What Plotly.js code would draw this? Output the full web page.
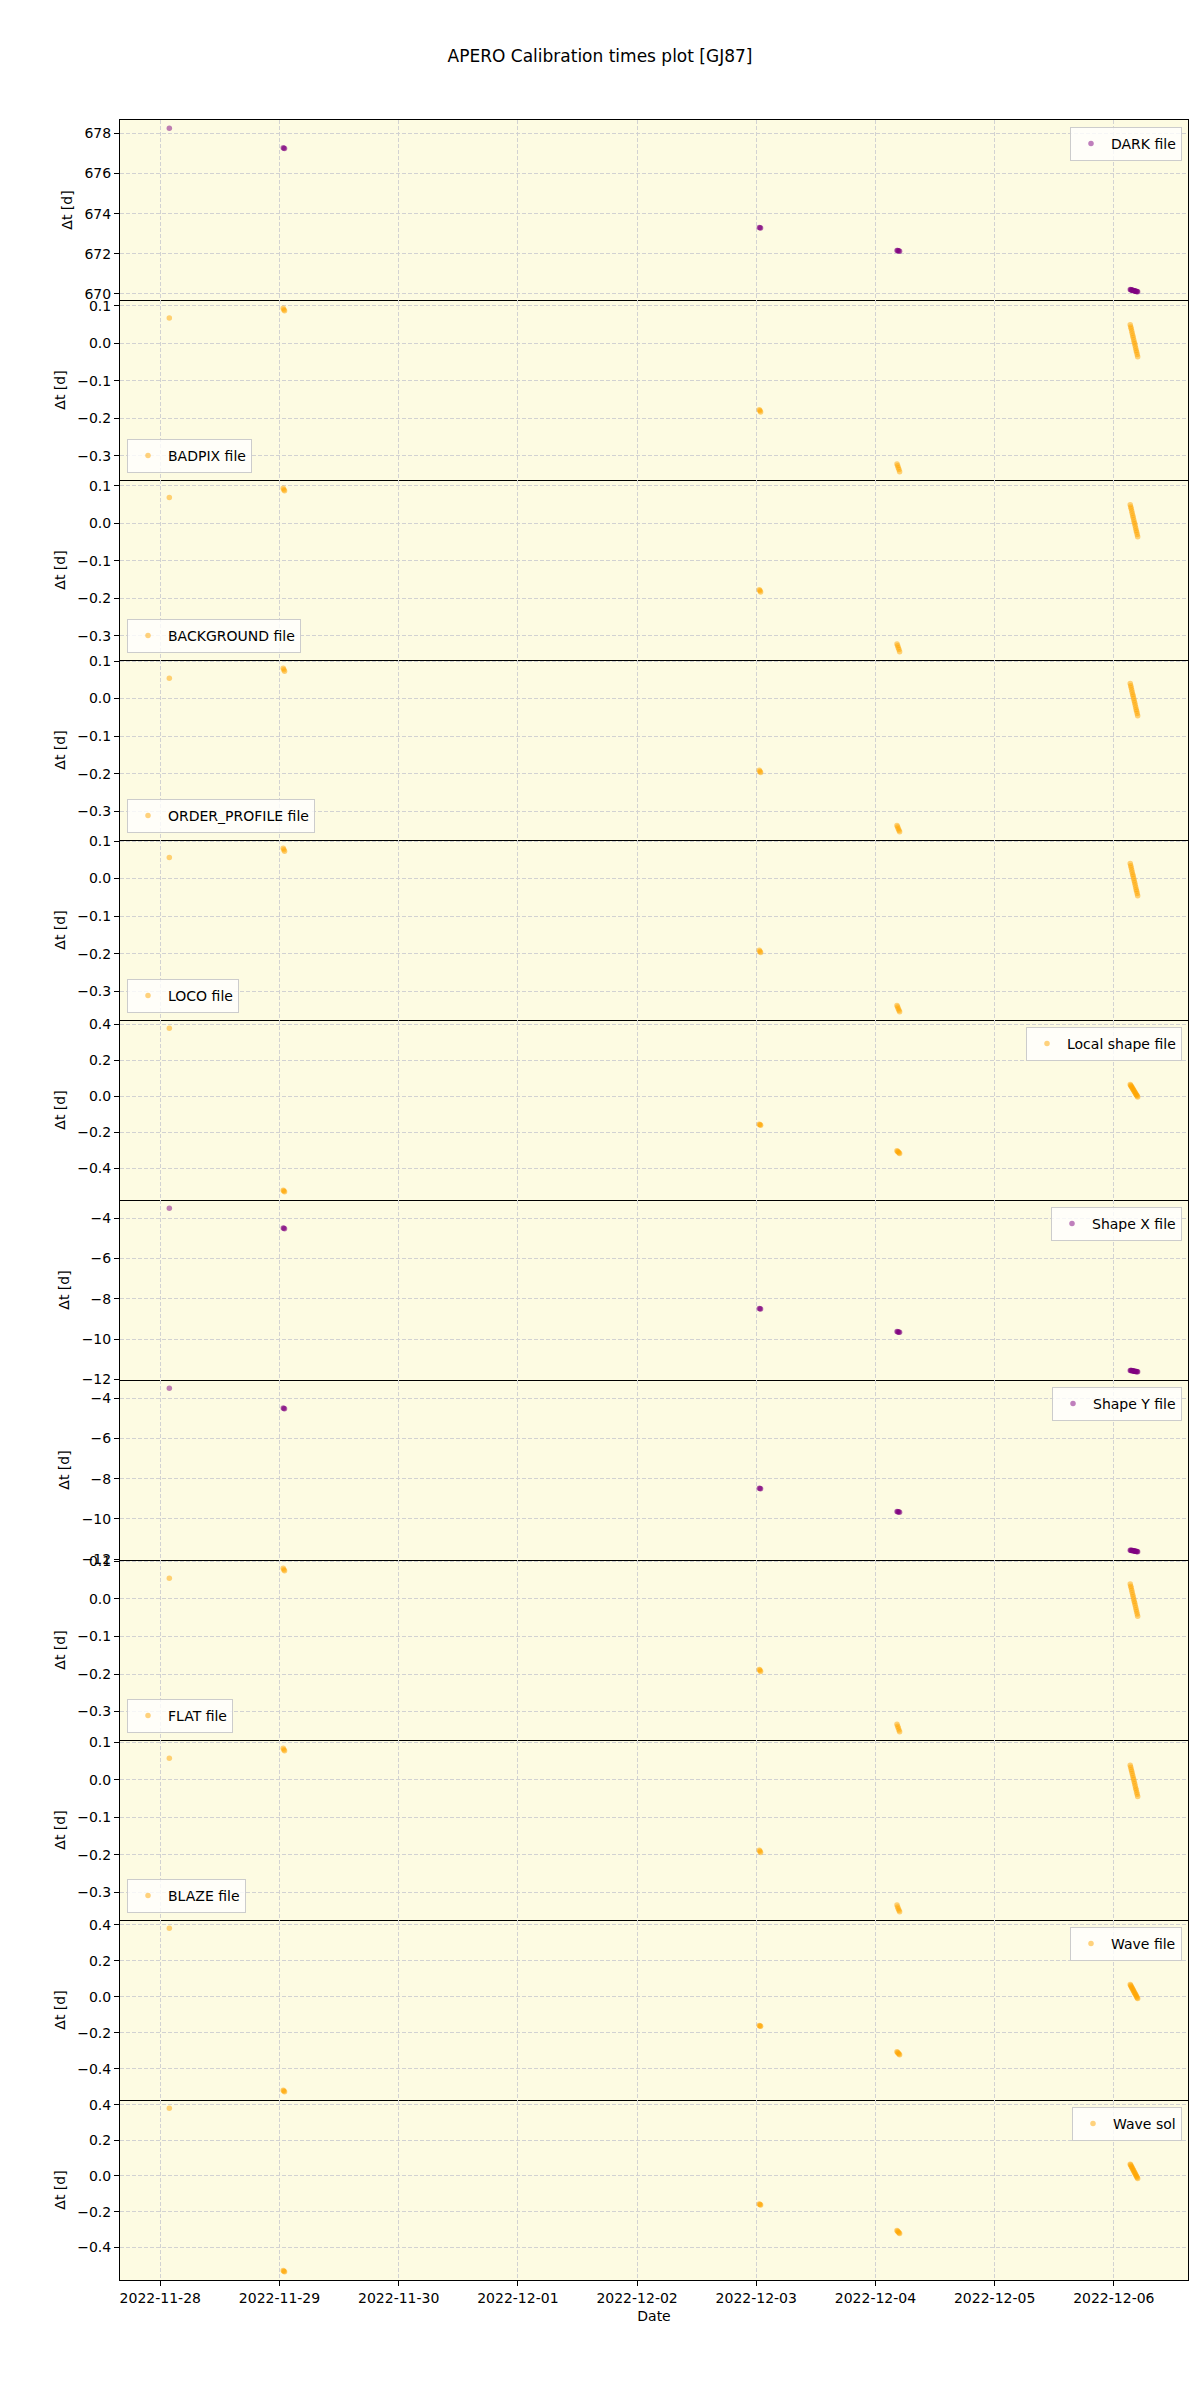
<!DOCTYPE html>
<html>
<head>
<meta charset="utf-8">
<script src="https://cdn.plot.ly/plotly-3.0.1.min.js"></script>
<style>body{margin:0;background:#fff;}</style>
</head>
<body>
<div id="chart" style="width:1200px;height:2400px;"></div>
<script>
// Observation times (shared by every panel)
const obsTimes = [
  "2022-11-28 01:49",
  "2022-11-29 00:45", "2022-11-29 00:53", "2022-11-29 01:01",
  "2022-12-03 00:37", "2022-12-03 00:45", "2022-12-03 00:53",
  "2022-12-04 04:20", "2022-12-04 04:28", "2022-12-04 04:36", "2022-12-04 04:44", "2022-12-04 04:52",
  "2022-12-06 03:18", "2022-12-06 03:24", "2022-12-06 03:30", "2022-12-06 03:36",
  "2022-12-06 03:42", "2022-12-06 03:48", "2022-12-06 03:54", "2022-12-06 04:00",
  "2022-12-06 04:06", "2022-12-06 04:12", "2022-12-06 04:18", "2022-12-06 04:24",
  "2022-12-06 04:30", "2022-12-06 04:36", "2022-12-06 04:42", "2022-12-06 04:48"
];

const panelNames = ["DARK file", "BADPIX file", "BACKGROUND file", "ORDER_PROFILE file", "LOCO file",
  "Local shape file", "Shape X file", "Shape Y file", "FLAT file", "BLAZE file", "Wave file", "Wave sol"];

const dtDark = [678.27, 677.29, 677.27, 677.25, 673.30, 673.29, 673.28,
  672.16, 672.15, 672.14, 672.13, 672.12,
  670.20, 670.19, 670.19, 670.18, 670.17, 670.16, 670.16, 670.15,
  670.14, 670.13, 670.13, 670.12, 670.11, 670.10, 670.10, 670.09];
const dtBadpix = [0.068, 0.094, 0.090, 0.087, -0.177, -0.180, -0.183,
  -0.322, -0.327, -0.332, -0.337, -0.343,
  0.050, 0.044, 0.039, 0.033, 0.027, 0.021, 0.016, 0.010,
  0.004, -0.001, -0.007, -0.013, -0.019, -0.024, -0.030, -0.036];
const dtBackground = [0.069, 0.094, 0.090, 0.087, -0.177, -0.180, -0.183,
  -0.322, -0.327, -0.332, -0.337, -0.343,
  0.050, 0.044, 0.039, 0.033, 0.027, 0.021, 0.016, 0.010,
  0.004, -0.001, -0.007, -0.013, -0.019, -0.024, -0.030, -0.036];
const dtOrderProfile = [0.054, 0.081, 0.077, 0.073, -0.191, -0.194, -0.197,
  -0.338, -0.342, -0.347, -0.351, -0.355,
  0.040, 0.034, 0.029, 0.023, 0.017, 0.011, 0.006, 0.000,
  -0.006, -0.011, -0.017, -0.023, -0.029, -0.034, -0.040, -0.046];
const dtLoco = [0.056, 0.081, 0.077, 0.073, -0.191, -0.194, -0.197,
  -0.338, -0.342, -0.347, -0.351, -0.355,
  0.040, 0.034, 0.029, 0.023, 0.017, 0.011, 0.006, 0.000,
  -0.006, -0.011, -0.017, -0.023, -0.029, -0.034, -0.040, -0.046];
const dtLocalShape = [0.380, -0.522, -0.527, -0.531, -0.155, -0.158, -0.161,
  -0.302, -0.306, -0.310, -0.314, -0.318,
  0.066, 0.061, 0.057, 0.052, 0.048, 0.043, 0.038, 0.034,
  0.029, 0.025, 0.020, 0.015, 0.011, 0.006, 0.002, -0.003];
const dtShapeX = [-3.50, -4.48, -4.50, -4.52, -8.49, -8.50, -8.51,
  -9.63, -9.64, -9.65, -9.66, -9.67,
  -11.56, -11.56, -11.57, -11.57, -11.58, -11.58, -11.59, -11.59,
  -11.60, -11.60, -11.61, -11.61, -11.62, -11.62, -11.63, -11.63];
const dtShapeY = [-3.49, -4.48, -4.50, -4.52, -8.48, -8.49, -8.50,
  -9.63, -9.64, -9.65, -9.66, -9.67,
  -11.56, -11.56, -11.57, -11.57, -11.58, -11.58, -11.59, -11.59,
  -11.60, -11.60, -11.61, -11.61, -11.62, -11.62, -11.63, -11.64];
const dtFlat = [0.055, 0.082, 0.078, 0.075, -0.188, -0.190, -0.193,
  -0.334, -0.339, -0.344, -0.349, -0.354,
  0.040, 0.034, 0.029, 0.023, 0.017, 0.011, 0.006, 0.000,
  -0.006, -0.011, -0.017, -0.023, -0.029, -0.034, -0.040, -0.046];
const dtBlaze = [0.058, 0.085, 0.081, 0.078, -0.188, -0.191, -0.194,
  -0.335, -0.340, -0.345, -0.349, -0.353,
  0.039, 0.034, 0.028, 0.023, 0.017, 0.012, 0.006, 0.001,
  -0.005, -0.010, -0.016, -0.022, -0.027, -0.033, -0.038, -0.044];
const dtWaveFile = [0.382, -0.520, -0.525, -0.529, -0.160, -0.162, -0.164,
  -0.306, -0.310, -0.314, -0.318, -0.322,
  0.068, 0.063, 0.058, 0.052, 0.047, 0.042, 0.037, 0.032,
  0.026, 0.021, 0.016, 0.011, 0.006, 0.000, -0.005, -0.010];
const dtWaveSol = [0.380, -0.530, -0.534, -0.537, -0.157, -0.160, -0.162,
  -0.306, -0.310, -0.314, -0.318, -0.322,
  0.066, 0.061, 0.055, 0.050, 0.045, 0.039, 0.034, 0.029,
  0.023, 0.018, 0.013, 0.007, 0.002, -0.003, -0.009, -0.014];

const panelData = [dtDark, dtBadpix, dtBackground, dtOrderProfile, dtLoco, dtLocalShape,
  dtShapeX, dtShapeY, dtFlat, dtBlaze, dtWaveFile, dtWaveSol];

// style config
const PURPLE = "purple", ORANGE = "orange";
const panelColor = [PURPLE, ORANGE, ORANGE, ORANGE, ORANGE, ORANGE, PURPLE, PURPLE, ORANGE, ORANGE, ORANGE, ORANGE];
const legendPos = ["ur", "ll", "ll", "ll", "ll", "ur", "ur", "ur", "ll", "ll", "ur", "ur"];
const panelDtick = [2, 0.1, 0.1, 0.1, 0.1, 0.2, 2, 2, 0.1, 0.1, 0.2, 0.2];
const panelFmt = ["d", ".1f", ".1f", ".1f", ".1f", ".1f", "d", "d", ".1f", ".1f", ".1f", ".1f"];

const W = 1200, H = 2400;
const M = {l: 120, r: 12, t: 120, b: 120};
const plotW = W - M.l - M.r, plotH = H - M.t - M.b;
const N = panelNames.length;
const panelH = plotH / N;
const FONT = "DejaVu Sans, sans-serif";
const GRID = "#d2d2d2";

const traces = [];
const layout = {
  width: W, height: H,
  margin: M,
  paper_bgcolor: "#ffffff",
  plot_bgcolor: "#fdfbe2",
  font: {family: FONT, size: 14, color: "#000"},
  showlegend: true,
  title: {
    text: "APERO Calibration times plot [GJ87]",
    font: {family: FONT, size: 17, color: "#000"},
    x: 0.5, xref: "container", xanchor: "center",
    y: 1 - 56 / H, yref: "container", yanchor: "middle"
  }
};

for (let i = 0; i < N; i++) {
  const k = i + 1;
  const sfx = k === 1 ? "" : String(k);
  const xa = "x" + sfx, ya = "y" + sfx;
  const legName = "legend" + sfx;
  const vals = panelData[i];
  traces.push({
    type: "scatter", mode: "markers",
    x: obsTimes, y: vals,
    xaxis: xa, yaxis: ya,
    name: panelNames[i],
    legend: legName,
    marker: {color: panelColor[i], size: 5.5, opacity: 0.5, line: {width: 0}},
    hoverinfo: "x+y"
  });

  const lo = Math.min(...vals), hi = Math.max(...vals);
  const pad = (hi - lo) * 0.05;
  const top = 1 - i / N, bot = 1 - (i + 1) / N;
  const isBottom = i === N - 1;

  const xaxis = {
    domain: [0, 1],
    anchor: ya,
    type: "date",
    range: ["2022-11-27 15:53", "2022-12-06 14:56"],
    tick0: "2022-11-28", dtick: 86400000,
    tickformat: "%Y-%m-%d",
    showticklabels: isBottom,
    ticks: isBottom ? "outside" : "",
    ticklen: 5, tickwidth: 1, tickcolor: "#000",
    tickfont: {family: FONT, size: 14, color: "#000"},
    showgrid: true, gridcolor: GRID, gridwidth: 1, griddash: "4px,2px",
    showline: true, mirror: k === 1, linecolor: "#000", linewidth: 1,
    zeroline: false,
    title: isBottom ? {text: "Date", font: {family: FONT, size: 14, color: "#000"}, standoff: 6} : {text: ""}
  };
  if (k !== 1) xaxis.matches = "x";
  layout["xaxis" + sfx] = xaxis;

  layout["yaxis" + sfx] = {
    domain: [bot, top],
    anchor: xa,
    range: [lo - pad, hi + pad],
    dtick: panelDtick[i],
    tick0: 0,
    tickformat: panelFmt[i],
    ticks: "outside", ticklen: 5, tickwidth: 1, tickcolor: "#000",
    tickfont: {family: FONT, size: 14, color: "#000"},
    showgrid: true, gridcolor: GRID, gridwidth: 1, griddash: "4px,2px",
    showline: true, mirror: true, linecolor: "#000", linewidth: 1,
    zeroline: false,
    title: {text: "Δt [d]", font: {family: FONT, size: 14, color: "#000"}, standoff: 8}
  };

  const pxTop = M.t + i * panelH, pxBot = M.t + (i + 1) * panelH;
  const leg = {
    bgcolor: "rgba(255,255,255,0.8)",
    bordercolor: "#cccccc", borderwidth: 1,
    font: {family: FONT, size: 14, color: "#000"},
    xref: "paper", yref: "paper",
    itemsizing: "trace"
  };
  if (legendPos[i] === "ur") {
    leg.x = (W - M.r - 6 - M.l) / plotW; leg.xanchor = "right";
    leg.y = (H - M.b - (pxTop + 7)) / plotH; leg.yanchor = "top";
  } else {
    leg.x = 7 / plotW; leg.xanchor = "left";
    leg.y = (H - M.b - (pxBot - 7)) / plotH; leg.yanchor = "bottom";
  }
  layout[legName] = leg;
}

Plotly.newPlot("chart", traces, layout, {staticPlot: true, displayModeBar: false});
</script>
</body>
</html>
